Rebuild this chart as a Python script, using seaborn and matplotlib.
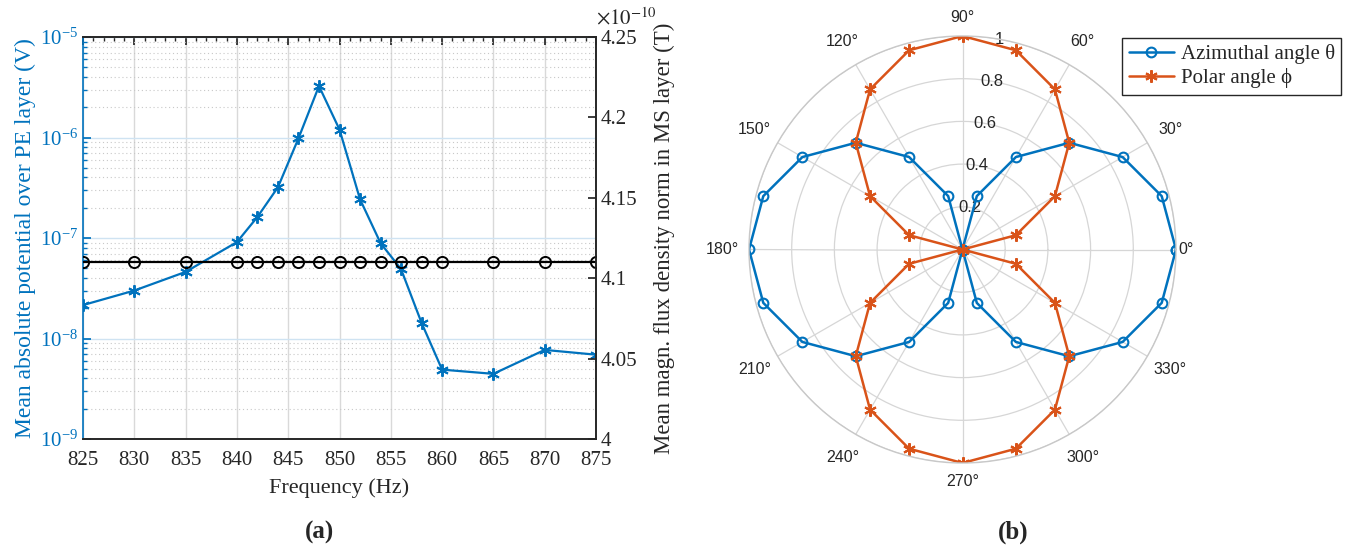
import numpy as np
import matplotlib
matplotlib.use("Agg")
import matplotlib.pyplot as plt
import matplotlib.ticker as mticker
import seaborn as sns

# --- data (a): frequency sweep ---
freq_hz = [825, 830, 835, 840, 842, 844, 846, 848, 850, 852, 854, 856, 858, 860, 865, 870, 875]
potential_v = [2.15e-8, 3.0e-8, 4.6e-8, 9.1e-8, 1.62e-7, 3.2e-7, 9.8e-7, 3.25e-6, 1.2e-6,
               2.43e-7, 8.9e-8, 4.9e-8, 1.43e-8, 4.9e-9, 4.45e-9, 7.7e-9, 6.9e-9]
flux_t = [4.11e-10] * 17
flux_ticks = [4.0e-10, 4.05e-10, 4.10e-10, 4.15e-10, 4.20e-10, 4.25e-10]

# --- data (b): polar pattern ---
angle_deg = [0, 15, 30, 45, 60, 75, 90, 105, 120, 135, 150, 165, 180,
             195, 210, 225, 240, 255, 270, 285, 300, 315, 330, 345, 360]
azimuthal_r = [1, 0.966, 0.866, 0.707, 0.5, 0.259, 0, 0.259, 0.5, 0.707, 0.866, 0.966, 1,
               0.966, 0.866, 0.707, 0.5, 0.259, 0, 0.259, 0.5, 0.707, 0.866, 0.966, 1]
polar_r = [0, 0.259, 0.5, 0.707, 0.866, 0.966, 1, 0.966, 0.866, 0.707, 0.5, 0.259, 0,
           0.259, 0.5, 0.707, 0.866, 0.966, 1, 0.966, 0.866, 0.707, 0.5, 0.259, 0]
theta_ticks = [0, 30, 60, 90, 120, 150, 180, 210, 240, 270, 300, 330]
r_ticks = [0.2, 0.4, 0.6, 0.8, 1.0]

BLUE = "#0072BD"
ORANGE = "#D95319"
DARK = "#262626"
ASTER = (6, 2, 0)

sns.set_theme(style="white")
plt.rcParams["font.family"] = ["Liberation Serif", "DejaVu Serif"]
plt.rcParams["mathtext.fontset"] = "stix"

fig = plt.figure(figsize=(13.53, 5.52), dpi=100)

# ================= (a) =================
ax = fig.add_axes([83 / 1353, 1 - 439 / 552, 513 / 1353, 402 / 552])
sns.lineplot(x=freq_hz, y=potential_v, ax=ax, color=BLUE, lw=1.6, marker=ASTER,
             markersize=9, markeredgecolor=BLUE, markeredgewidth=1.4, sort=False)
ax.set_yscale("log")
ax.set_ylim(1e-9, 1e-5)
ax.set_xlim(825, 875)
ax.set_xticks(range(825, 876, 5))
ax.xaxis.set_minor_locator(mticker.MultipleLocator(1))
ax.yaxis.set_major_locator(mticker.LogLocator(base=10, numticks=10))
ax.yaxis.set_minor_locator(mticker.LogLocator(base=10, subs=np.arange(2, 10), numticks=10))
ax.yaxis.set_minor_formatter(mticker.NullFormatter())
ax.grid(True, which="major", axis="x", color="#d9d9d9", lw=1)
ax.grid(True, which="major", axis="y", color="#cfe3f2", lw=1)
ax.grid(True, which="minor", axis="y", color="#c8c8c8", lw=0.8, ls=(0, (1, 2.5)))
ax.tick_params(axis="x", which="both", direction="in", top=True, labelsize=15,
               colors=DARK, pad=8.5)
ax.tick_params(axis="x", which="major", length=6)
ax.tick_params(axis="x", which="minor", length=3)
ax.tick_params(axis="y", which="both", direction="in", colors=BLUE, labelsize=15)
ax.tick_params(axis="y", which="major", length=6)
ax.tick_params(axis="y", which="minor", length=3)
ax.set_xlabel("Frequency (Hz)", fontsize=16, color=DARK, labelpad=6)
ax.set_ylabel("Mean absolute potential over PE layer (V)", fontsize=17, color=BLUE, labelpad=3)
for s in ["top", "bottom", "right"]:
    ax.spines[s].set_color(DARK)
ax.spines["left"].set_color(BLUE)
for s in ax.spines.values():
    s.set_linewidth(1.2)

ax2 = ax.twinx()
sns.lineplot(x=freq_hz, y=flux_t, ax=ax2, color="black", lw=1.6, marker="o",
             markersize=8, markerfacecolor="none", markeredgecolor="black",
             markeredgewidth=1.4, sort=False)
ax2.set_ylim(4.0e-10, 4.25e-10)
ax2.set_yticks(flux_ticks)
ax2.yaxis.set_major_formatter(mticker.FuncFormatter(lambda v, p: f"{v * 1e10:g}"))
ax2.text(1.0, 1.02, r"$\times10^{-10}$", transform=ax2.transAxes, fontsize=15,
         ha="left", va="bottom", color=DARK)
ax2.tick_params(axis="y", direction="in", length=6, labelsize=15, colors=DARK)
ax2.set_ylabel("Mean magn. flux density norm in MS layer (T)", fontsize=16.5,
               color=DARK, labelpad=12)
ax2.grid(False)
ax2.spines["left"].set_visible(False)
for s in ["top", "bottom", "right"]:
    ax2.spines[s].set_color(DARK)
    ax2.spines[s].set_linewidth(1.2)

fig.text(320 / 1353, 1 - 532 / 552, "(a)", fontsize=18, fontweight="bold", ha="center", va="center")

# ================= (b) =================
axp = fig.add_axes([749 / 1353, 1 - 463 / 552, 427 / 1353, 427 / 552], projection="polar")
theta = np.deg2rad(angle_deg)
sns.lineplot(x=theta, y=azimuthal_r, ax=axp, color=BLUE, lw=1.8, marker="o", markersize=7,
             markerfacecolor="none", markeredgecolor=BLUE, markeredgewidth=1.5,
             sort=False, label="Azimuthal angle \u03b8")
sns.lineplot(x=theta, y=polar_r, ax=axp, color=ORANGE, lw=1.8, marker=ASTER, markersize=9,
             markeredgecolor=ORANGE, markeredgewidth=1.5, sort=False,
             label="Polar angle \u03d5")
axp.set_theta_zero_location("E")
axp.set_ylim(0, 1)
axp.set_thetagrids(theta_ticks, labels=[""] * len(theta_ticks))
axp.set_rgrids(r_ticks, labels=[""] * len(r_ticks))
for t in theta_ticks:
    if t == 0:
        r_lab, ha = 1.01, "left"
    elif t in (90, 270):
        r_lab, ha = 1.088, "center"
    else:
        r_lab, ha = 1.125, "center"
    axp.text(np.deg2rad(t), r_lab, f"{t}\u00b0", ha=ha, va="center", fontsize=11.5,
             family="Liberation Sans", color=DARK, clip_on=False)
for r in r_ticks:
    axp.text(np.deg2rad(80), r, f"{r:g}", ha="center", va="center", fontsize=12,
             family="Liberation Sans", color=DARK, zorder=1)
axp.grid(True, color="#d6d6d6", lw=0.9)
axp.spines["polar"].set_color("#c8c8c8")
axp.spines["polar"].set_linewidth(1.0)
axp.set_xlabel("")
axp.set_ylabel("")
axp.legend(loc="upper right", bbox_to_anchor=(1341 / 1353, 1 - 38 / 552),
           bbox_transform=fig.transFigure, fontsize=15, frameon=True, fancybox=False,
           edgecolor=DARK, framealpha=1, borderpad=0.3, handlelength=2.2,
           handletextpad=0.3, labelspacing=0.2, borderaxespad=0)
axp.get_legend().get_frame().set_linewidth(1.0)

fig.text(1013 / 1353, 1 - 532 / 552, "(b)", fontsize=18, fontweight="bold", ha="center", va="center")

fig.savefig("out.png", dpi=100)
